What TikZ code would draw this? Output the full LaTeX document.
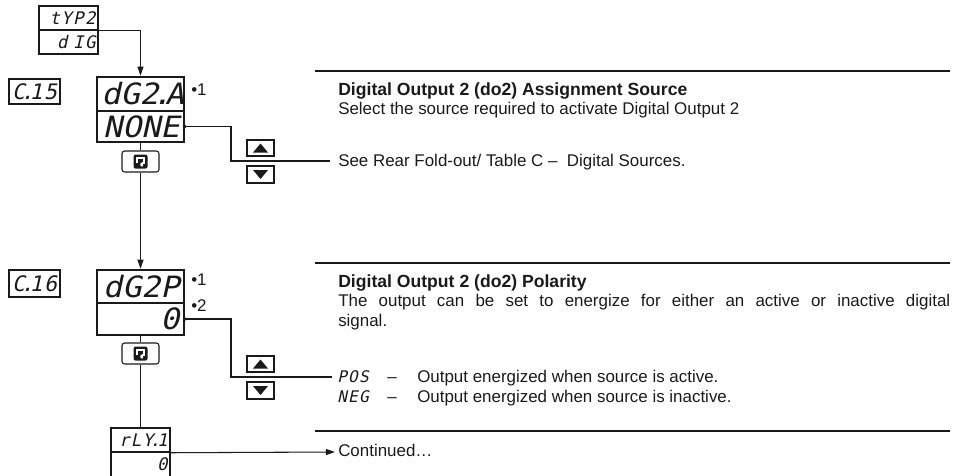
\documentclass[tikz,border=0pt]{standalone}
\usepackage{fontspec}
\setmainfont{Liberation Sans}
\newfontfamily\segA[FakeSlant=0.22,FakeStretch=1.08]{DejaVu Sans Mono}
\newfontfamily\segB[FakeSlant=0.22,LetterSpace=8]{DejaVu Sans Mono}
\usetikzlibrary{arrows.meta}
\newdimen\pxu \pxu=0.75pt
\newcommand\sdot{\makebox[0.22em][c]{.}}
\definecolor{ink}{HTML}{1A1A1A}
\begin{document}
\begin{tikzpicture}[x=0.75pt,y=-0.75pt,
  bigrow/.style={draw=ink, line width=1.9pt, minimum width=87\pxu, text width=78\pxu,
    inner xsep=4.5\pxu, inner ysep=0pt, align=right, text=ink,
    font=\segA\fontsize{22}{22}\selectfont},
  smallrow/.style={draw=ink, line width=1.1pt, minimum width=59\pxu, minimum height=24\pxu,
    text width=54\pxu, inner xsep=2.5\pxu, inner ysep=0pt, align=right, text=ink,
    font=\segB\fontsize{13}{13}\selectfont},
  cbox/.style={draw=ink, line width=1.1pt, minimum width=51\pxu, inner sep=0pt, text=ink,
    font=\segB\fontsize{16}{16}\selectfont},
  btnup/.style={draw=ink, line width=0.8pt, minimum width=27\pxu, minimum height=16\pxu, inner sep=0pt,
    path picture={\fill[ink] (path picture bounding box.center) ++(0,-4.5) -- ++(7.5,9) -- ++(-15,0) -- cycle;}},
  btndn/.style={draw=ink, line width=0.8pt, minimum width=27\pxu, minimum height=17\pxu, inner sep=0pt,
    path picture={\fill[ink] (path picture bounding box.center) ++(0,4.5) -- ++(7.5,-9) -- ++(-15,0) -- cycle;}},
  enterbtn/.style={draw=ink, line width=0.8pt, rounded corners=2pt, minimum width=37\pxu, minimum height=21\pxu, inner sep=0pt,
    path picture={
      \fill[ink,rounded corners=1.5pt] (path picture bounding box.center) ++(-7,-7) rectangle ++(14,14);
      \draw[white,line width=1.3pt,sharp corners] (path picture bounding box.center) ++(-3.5,1.5) -- ++(0,-5) -- ++(7,0) -- ++(0,5) -- ++(-2.5,0);
      \fill[white] (path picture bounding box.center) ++(2.5,-0.5) -- ++(0,7) -- ++(-4,-3.5) -- cycle;}},
  txt/.style={anchor=base west, inner sep=0pt, text=ink, font=\fontsize{12.7}{14}\selectfont},
  bold/.style={txt, font=\fontsize{13.2}{14}\selectfont\bfseries},
  tag/.style={anchor=base west, inner sep=0pt, text=ink, font=\fontsize{12.7}{14}\selectfont},
  conn/.style={draw=ink, line width=0.8pt},
  arr/.style={conn, -{Triangle[length=6.8pt,width=4.5pt]}},
  rule/.style={draw=ink, line width=1.1pt}
]
\useasboundingbox (0,0) rectangle (959,475);
\clip (0,0) rectangle (959,475);

% top small display
\node[smallrow] (typA) at (68.5,18) {tYP2};
\node[smallrow] (typB) at (68.5,42) {d IG};

% C.15
\node[cbox, minimum height=25\pxu] (c15) at (34.5,91.5) {C\sdot 15};
\node[bigrow, minimum height=34\pxu] (dgaT) at (140.5,94) {dG2\sdot A};
\node[bigrow, minimum height=31\pxu] (dgaB) at (140.5,126.5) {NONE};
\node[tag] (b1a) at (191,95) {•1};
\node[enterbtn] (ent1) at (140.5,161.5) {};
\node[btnup] (up1) at (260.5,148) {};
\node[btndn] (dn1) at (260.5,174.5) {};

% C.16
\node[cbox, minimum height=27\pxu] (c16) at (34.5,283.5) {C\sdot 16};
\node[bigrow, minimum height=33\pxu] (dgpT) at (140.5,286.5) {dG2P};
\node[bigrow, minimum height=32\pxu] (dgpB) at (140.5,319) {0};
\node[tag] (b1p) at (191,285) {•1};
\node[tag] (b2p) at (191,311) {•2};
\node[enterbtn] (ent2) at (140.5,353.5) {};
\node[btnup] (up2) at (260.5,364) {};
\node[btndn] (dn2) at (260.5,390.5) {};

% rLY.1
\node[smallrow] (rlyT) at (140.5,440) {rLY\sdot 1};
\node[smallrow, minimum height=34\pxu, text depth=7pt] (rlyB) at (140.5,469) {0};

% right texts
\node[bold] (t1) at (338,95) {Digital Output 2 (do2) Assignment Source};
\node[txt] (t1b) at (338,114) {Select the source required to activate Digital Output 2};
\node[txt] (see) at (338,166) {See Rear Fold-out/ Table C \textendash\ \ Digital Sources.};
\node[bold] (t2) at (338,287) {Digital Output 2 (do2) Polarity};
\node[txt] (t2b) at (338,306) {\makebox[612\pxu][s]{The output can be set to energize for either an active or inactive digital}};
\node[txt] (t2c) at (338,326) {signal.};
\node[txt] (pos) at (337,382) {\makebox[50\pxu][l]{\segB\fontsize{12}{12}\selectfont POS}\makebox[30\pxu][l]{\textendash}Output energized when source is active.};
\node[txt] (neg) at (337,402) {\makebox[50\pxu][l]{\segB\fontsize{12}{12}\selectfont NEG}\makebox[30\pxu][l]{\textendash}Output energized when source is inactive.};
\node[txt] (cont) at (338,456) {Continued\ldots};

% rules
\draw[rule] (315,71) -- (950,71);
\draw[rule] (315,263) -- (950,263);
\draw[rule] (315,431) -- (950,431);

% connectors
\coordinate (k1) at (231,161);
\coordinate (e1) at (330,161);
\coordinate (k2) at (231,377);
\coordinate (e2) at (332,377);
\coordinate (e3) at (335,452);

\draw[arr] (typA.south east) -| (dgaT.north);
\draw[conn] (dgaB.east) -| (k1) -- (e1);
\fill[ink] (dgaB.east) circle (1.7);
\draw[conn] (dgaB.south) -- (ent1.north);
\draw[arr] (ent1.south) -- (dgpT.north);
\draw[conn] (dgpB.east) -| (k2) -- (e2);
\fill[ink] (dgpB.east) circle (1.7);
\draw[conn] (dgpB.south) -- (ent2.north);
\draw[conn] (ent2.south) -- (rlyT.north);
\draw[arr] (rlyT.south east) -- (e3);
\end{tikzpicture}
\end{document}
